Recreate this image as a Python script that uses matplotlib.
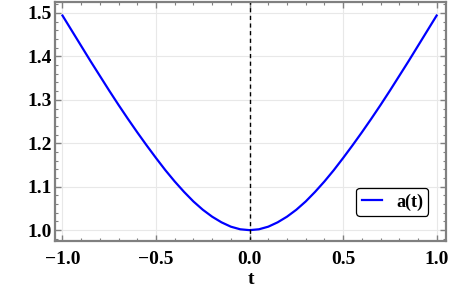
import numpy as np
import matplotlib
matplotlib.use("Agg")
import matplotlib.pyplot as plt
from matplotlib.ticker import MultipleLocator

# values (curve is symmetric, right half listed)
t_half = [0.0, 0.05, 0.1, 0.15, 0.2, 0.25, 0.3, 0.35, 0.4, 0.45, 0.5,
          0.55, 0.6, 0.65, 0.7, 0.75, 0.8, 0.85, 0.9, 0.95, 1.0]
a_half = [1.000, 1.002, 1.008, 1.018, 1.031, 1.047, 1.066, 1.088, 1.112, 1.138, 1.166,
          1.195, 1.225, 1.256, 1.288, 1.321, 1.355, 1.389, 1.424, 1.459, 1.494]

t = [-v for v in t_half[::-1]] + t_half[1:]
a = a_half[::-1] + a_half[1:]

plt.rcParams['font.family'] = ['Liberation Serif', 'DejaVu Serif']
plt.rcParams['font.weight'] = 'bold'

fig = plt.figure(figsize=(4.49, 2.95), dpi=100)
ax = fig.add_axes([0.1225, 0.183, 0.8708, 0.81])

ax.plot(t, a, color='#0000ff', lw=1.6, label='a(t)')
ax.axvline(0, color='black', lw=1.0, ls=(0, (3, 2.5)))

ax.set_xlim(-1.04, 1.05)
ax.set_ylim(0.975, 1.525)

ax.xaxis.set_major_locator(MultipleLocator(0.5))
ax.xaxis.set_minor_locator(MultipleLocator(0.1))
ax.yaxis.set_major_locator(MultipleLocator(0.1))
ax.yaxis.set_minor_locator(MultipleLocator(0.02))
ax.grid(True, which='major', color='#e8e8e8', lw=0.8)
ax.set_axisbelow(True)

ax.tick_params(which='both', direction='in', top=True, right=True, color='#808080',
               labelsize=14)
ax.tick_params(axis='x', pad=7)
ax.tick_params(axis='y', pad=2)
ax.tick_params(which='major', length=4, width=1)
ax.tick_params(which='minor', length=2.2, width=0.8)
for lab in ax.get_xticklabels() + ax.get_yticklabels():
    lab.set_fontweight('bold')

for s in ax.spines.values():
    s.set_color('#808080')
    s.set_linewidth(1.6)

ax.set_xlabel('t', fontsize=14, fontweight='bold', labelpad=2)

leg = ax.legend(loc='lower right', bbox_to_anchor=(0.955, 0.105), borderaxespad=0,
                handlelength=1.1, handletextpad=0.8, fancybox=True, framealpha=1,
                prop={'weight': 'bold', 'size': 13}, borderpad=0.3)
leg.get_frame().set_edgecolor('black')
leg.get_frame().set_linewidth(0.9)

fig.savefig('out.png', dpi=100)
